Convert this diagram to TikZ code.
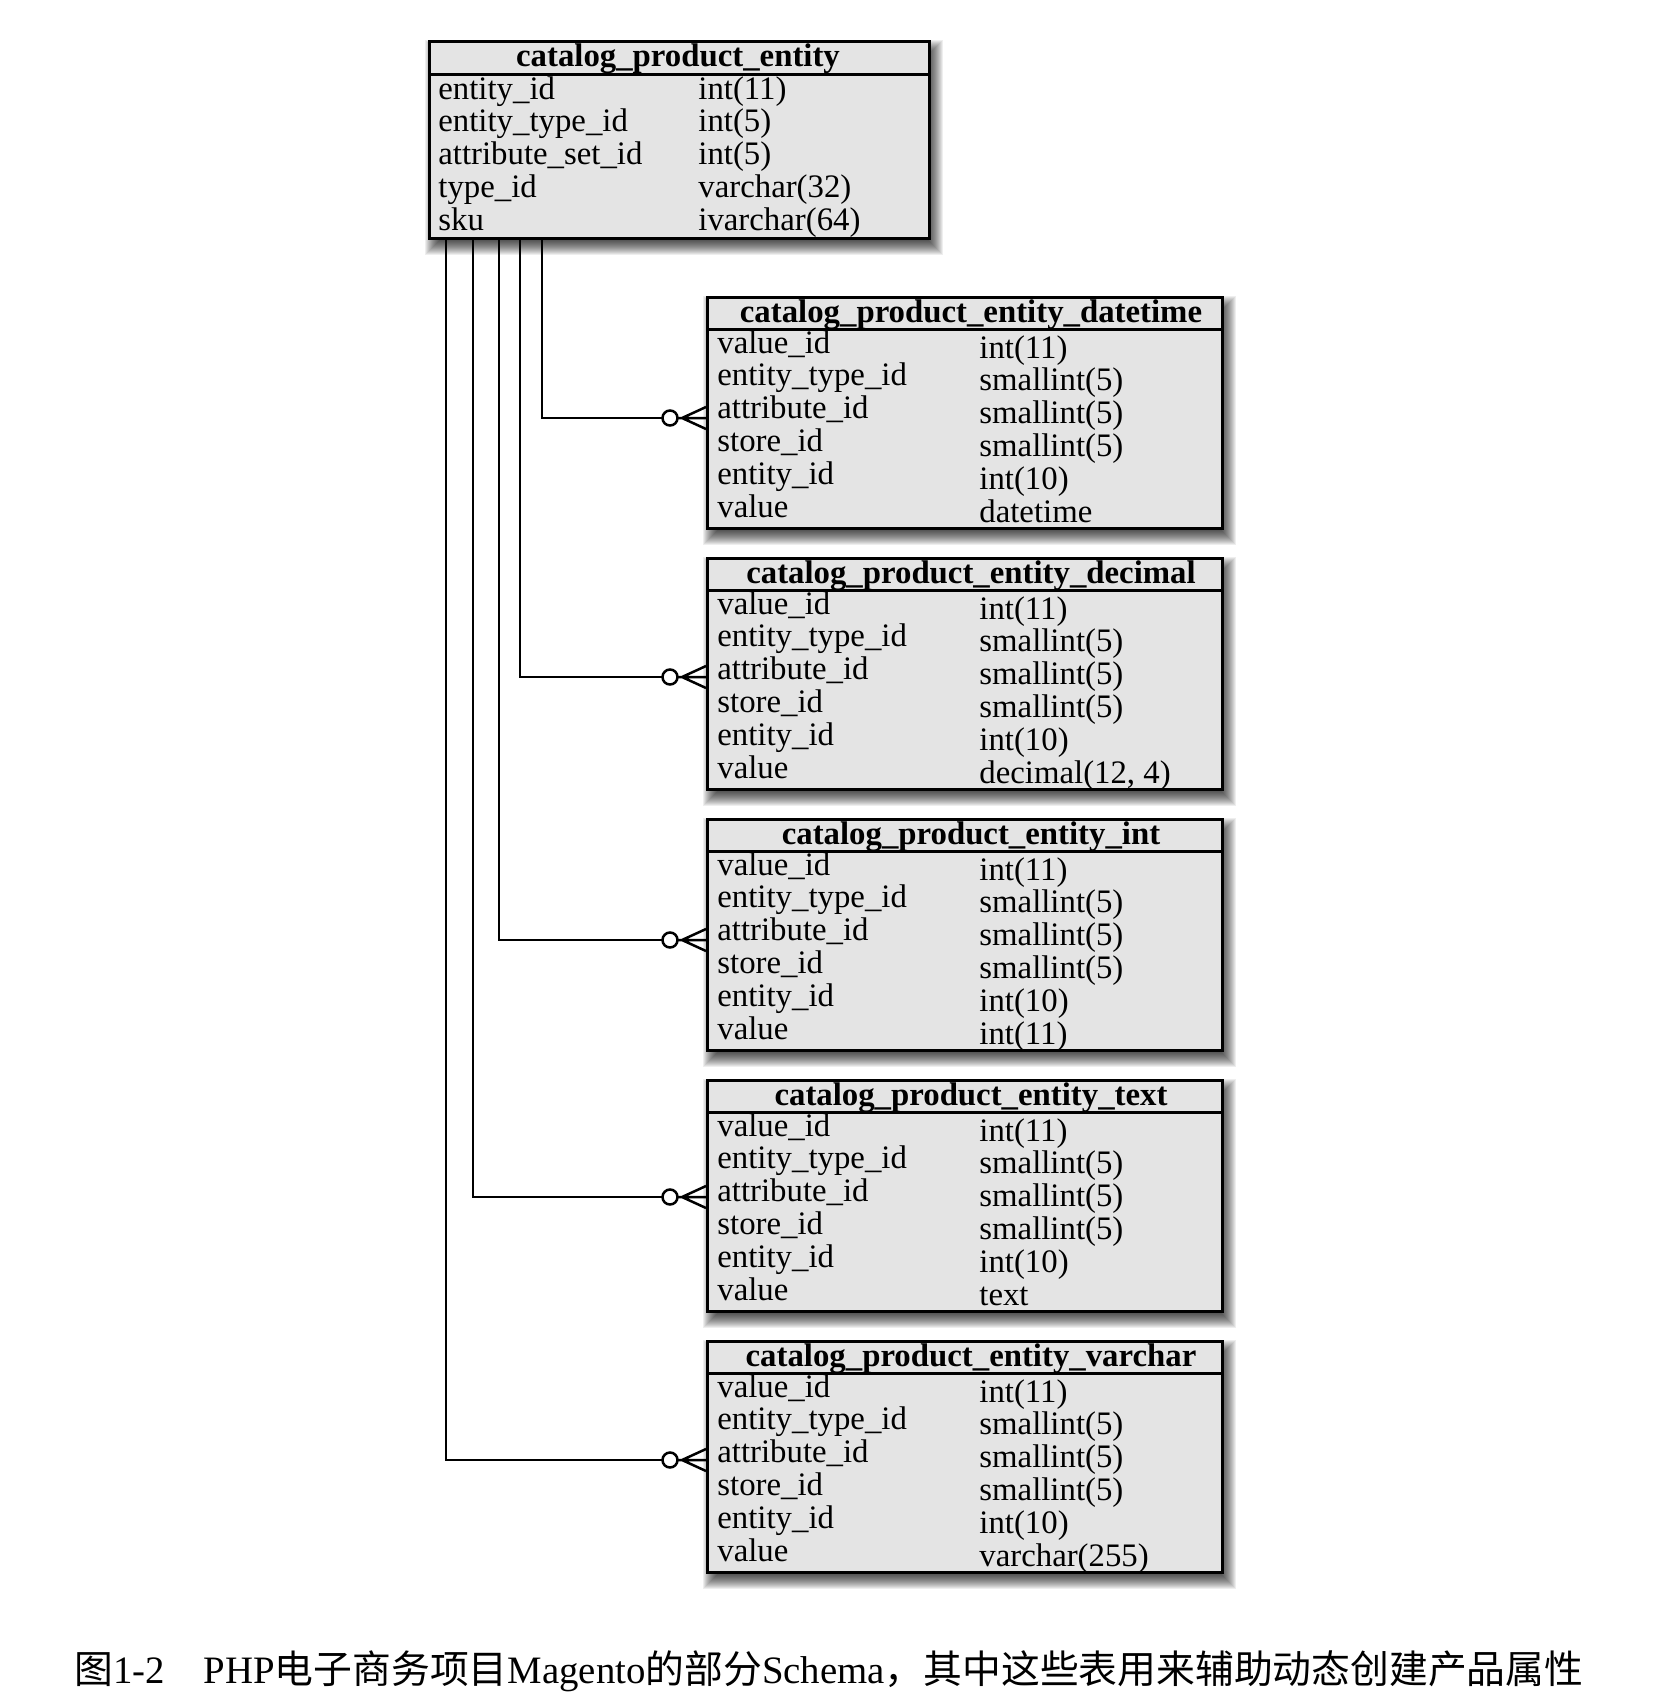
\documentclass[tikz,border=0pt]{standalone}
\usepackage{fontspec}
\setmainfont{Liberation Serif}
\newfontfamily\cjk{Noto Sans CJK SC}
\usetikzlibrary{calc}
\definecolor{tblfill}{RGB}{228,228,228}
\tikzset{
  tbl/.style={draw=black, line width=1.5pt, fill=tblfill, inner sep=0pt, anchor=north west},
  sepline/.style={draw=black, line width=1.5pt},
  ttl/.style={anchor=base, inner sep=0pt, font=\fontsize{16.4}{18}\selectfont\bfseries},
  cell/.style={anchor=base west, inner sep=0pt, font=\fontsize{16.4}{18}\selectfont},
  conn/.style={draw=black, line width=1.25pt},
  crow/.pic={
    \draw[conn] (-24,0) -- (0,-11) (-24,0) -- (0,11) (-43,0) -- (0,0);
    \draw[conn, fill=white] (-36,0) circle[radius=3.75pt];
  }
}
\newcommand{\tblshadow}[4]{%
  \foreach \e in {-6,...,9}{\fill[black,opacity=0.065] (#1+6-\e,#2+9-\e) rectangle (#3+6+\e,#4+9+\e);}}
\newcommand{\sixtable}[4]{%
  \tblshadow{706}{#2}{1221}{#2+231}
  \node[tbl, minimum width=257.5pt, minimum height=115.5pt] (#1) at (706,#2) {};
  \draw[sepline] (706,#2+33) -- (1221,#2+33);
  \node[ttl] (#1-t) at (971,#2+26) {#3};
  \foreach \n/\ty [count=\i from 0] in {value\_id/int(11), entity\_type\_id/smallint(5), attribute\_id/smallint(5), store\_id/smallint(5), entity\_id/int(10), value/{#4}} {
    \node[cell] (#1-a\i) at (717,#2+57+32.8*\i) {\n};
    \node[cell] (#1-b\i) at (979,#2+62+32.8*\i) {\ty};
  }
}
\begin{document}
\begin{tikzpicture}[x=0.5pt,y=-0.5pt]
\fill[white] (0,0) rectangle (1668,1698);
\useasboundingbox (0,0) rectangle (1668,1698);

% main table
\tblshadow{428}{40}{928}{237}
\node[tbl, minimum width=250pt, minimum height=98.5pt] (cpe) at (428,40) {};
\draw[sepline] (428,74) -- (928,74);
\node[ttl] (cpe-t) at (678,66) {catalog\_product\_entity};
\foreach \n/\ty [count=\i from 0] in {entity\_id/int(11), entity\_type\_id/int(5), attribute\_set\_id/int(5), type\_id/varchar(32), sku/ivarchar(64)} {
  \node[cell] (cpe-a\i) at (438,99+32.8*\i) {\n};
  \node[cell] (cpe-b\i) at (698,99+32.8*\i) {\ty};
}

\sixtable{dt}{296}{catalog\_product\_entity\_datetime}{datetime}
\sixtable{dec}{557}{catalog\_product\_entity\_decimal}{decimal(12, 4)}
\sixtable{int}{818}{catalog\_product\_entity\_int}{int(11)}
\sixtable{txt}{1079}{catalog\_product\_entity\_text}{text}
\sixtable{vc}{1340}{catalog\_product\_entity\_varchar}{varchar(255)}

% connectors
\coordinate (o1) at ($(cpe.south west)+(114,0)$);
\coordinate (o2) at ($(cpe.south west)+(92,0)$);
\coordinate (o3) at ($(cpe.south west)+(71,0)$);
\coordinate (o4) at ($(cpe.south west)+(45,0)$);
\coordinate (o5) at ($(cpe.south west)+(18,0)$);
\foreach \s/\t/\dy in {o1/dt/122, o2/dec/120, o3/int/122, o4/txt/118, o5/vc/120} {
  \coordinate (\t-in) at ($(\t.north west)+(0,\dy)$);
  \draw[conn] (\s) |- (\t-in);
  \pic at (\t-in) {crow};
}

% caption
\node[anchor=base west, inner sep=0pt, font=\fontsize{19.4}{24}\selectfont] (cap) at (74,1683)
  {{\cjk 图}1-2\hspace{1em}PHP{\cjk 电子商务项目}Magento{\cjk 的部分}Schema{\cjk ，其中这些表用来辅助动态创建产品属性}};
\end{tikzpicture}
\end{document}
